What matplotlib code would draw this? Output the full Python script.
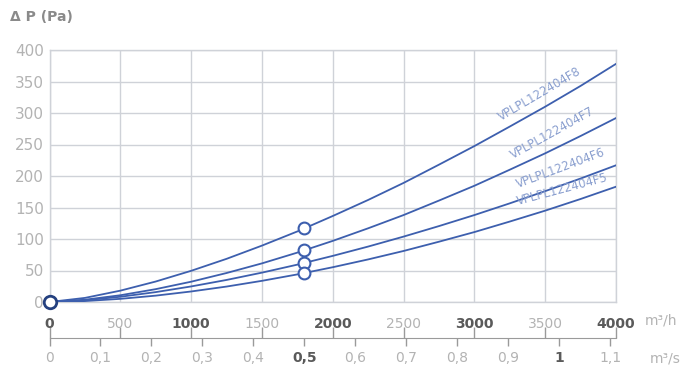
import numpy as np
import matplotlib
matplotlib.use("Agg")
import matplotlib.pyplot as plt

# debit (m3/h) et perte de charge (Pa) pour chaque modele
debit = [0, 250, 500, 750, 1000, 1250, 1500, 1750, 2000, 2250,
         2500, 2750, 3000, 3250, 3500, 3750, 4000]
dp_f8 = [0, 6.5, 18, 32.5, 49.5, 68.5, 89.5, 112, 136.5, 162,
         189, 218, 247.5, 278.5, 310, 343, 378]
dp_f7 = [0, 3.6, 10.7, 20.4, 32.2, 46, 61.3, 78.4, 97, 117,
         138, 161, 184.5, 210, 236, 263.5, 292]
dp_f6 = [0, 2.8, 8.3, 15.7, 24.7, 35, 46.6, 59.3, 73.2, 88,
         103.8, 120.5, 138, 156.6, 176, 196, 217]
dp_f5 = [0, 1.5, 5, 10.1, 16.7, 24.5, 33.6, 43.8, 55.2, 67.6,
         81, 95.7, 111, 127.7, 145, 163.5, 183]
modeles = ["VPLPL122404F8", "VPLPL122404F7", "VPLPL122404F6", "VPLPL122404F5"]

# point de fonctionnement nominal
q_nominal = 1800
dp_nominal = [117, 82, 62, 46]

# position et angle des etiquettes des courbes
label_x = [3200, 3285, 3315, 3315]
label_y = [283, 223, 177, 149]
label_rot = [30.5, 29, 20.5, 15]

bleu = "#3d5fae"
gris_grille = "#cfd2d8"
gris_clair = "#b3b3b3"
gris_fonce = "#5a5a5a"

fig = plt.figure(figsize=(6.97, 3.69), dpi=100)
ax = fig.add_axes([49.5 / 697, 67 / 369, 566.5 / 697, 252 / 369])

courbes = [dp_f8, dp_f7, dp_f6, dp_f5]
for dp, nom, lx, ly, rot, dpn in zip(courbes, modeles, label_x, label_y,
                                     label_rot, dp_nominal):
    ax.plot(debit, dp, color=bleu, lw=1.3, zorder=3, solid_capstyle="round")
    ax.plot(q_nominal, dpn, "o", ms=8.5, mfc="white", mec=bleu, mew=1.5, zorder=4)
    ax.text(lx, ly, nom, rotation=rot, rotation_mode="anchor",
            ha="left", va="bottom", fontsize=8.5, color="#8a9fcf", zorder=5)

# cercle a l'origine
ax.plot(0, 0, "o", ms=9, mfc="white", mec="#24407f", mew=2, zorder=6,
        clip_on=False)

ax.set_xlim(0, 4000)
ax.set_ylim(0, 400)
ax.set_xticks(np.arange(0, 4001, 500))
ax.set_yticks(np.arange(0, 401, 50))
ax.grid(True, color=gris_grille, lw=1)
ax.set_axisbelow(True)
for s in ax.spines.values():
    s.set_color(gris_grille)
    s.set_linewidth(1)

ax.tick_params(axis="y", length=0, pad=4, labelsize=11, labelcolor=gris_clair)
ax.tick_params(axis="x", length=0, pad=11, labelsize=10)
for lab, val in zip(ax.get_xticklabels(), np.arange(0, 4001, 500)):
    if val % 1000 == 0:
        lab.set_color(gris_fonce)
        lab.set_fontweight("bold")
    else:
        lab.set_color(gris_clair)

# axe secondaire : graduations m3/h vers le haut
ax_h = ax.secondary_xaxis(-36 / 252)
ax_h.set_xticks(np.arange(0, 4001, 500))
ax_h.tick_params(direction="in", length=8, width=1, color="#9a9a9a",
                 labelbottom=False)
ax_h.spines["bottom"].set_color("#9a9a9a")

# axe secondaire : m3/s vers le bas
ax_s = ax.secondary_xaxis(-36 / 252, functions=(lambda q: q / 3600,
                                                 lambda v: v * 3600))
ticks_s = np.round(np.arange(0, 1.11, 0.1), 1)
ax_s.set_xticks(ticks_s)
ax_s.set_xticklabels([("%g" % v).replace(".", ",") for v in ticks_s])
ax_s.tick_params(direction="out", length=6, width=1, color="#9a9a9a",
                 labelsize=10, pad=3)
ax_s.spines["bottom"].set_visible(False)
for lab, val in zip(ax_s.get_xticklabels(), ticks_s):
    if val in (0.5, 1.0):
        lab.set_color(gris_fonce)
        lab.set_fontweight("bold")
    else:
        lab.set_color(gris_clair)

fig.text(645 / 697, 1 - 320 / 369, "m³/h", fontsize=10, color=gris_clair,
         va="center", ha="left")
fig.text(650 / 697, 1 - 358 / 369, "m³/s", fontsize=10, color=gris_clair,
         va="center", ha="left")
fig.text(10 / 697, 1 - 17 / 369, "Δ P (Pa)", fontsize=10, color="#8a8a8a",
         fontweight="bold", va="center", ha="left")

fig.savefig("out.png", dpi=100)
